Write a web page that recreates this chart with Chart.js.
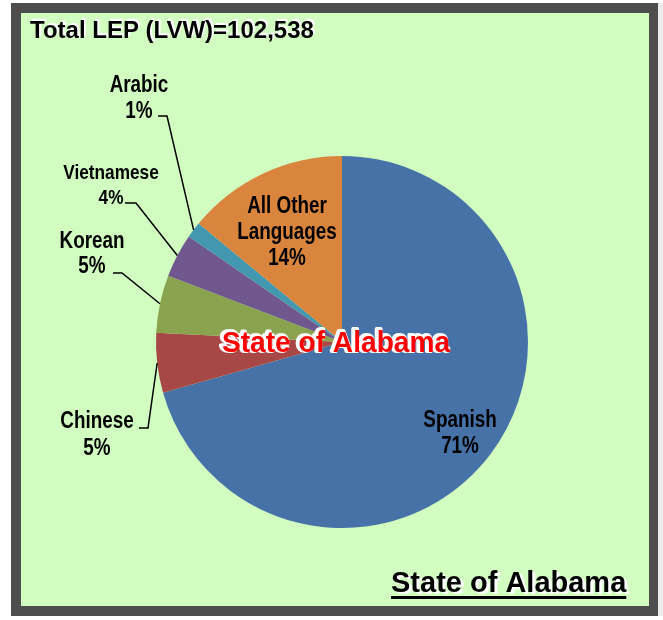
<!DOCTYPE html>
<html>
<head>
<meta charset="utf-8">
<script src="https://cdn.jsdelivr.net/npm/chart.js@4"></script>
<style>
    html, body { margin: 0; padding: 0; background: #ffffff; }
    #wrap { position: absolute; left: 0; top: 0; width: 663px; height: 620px; }
</style>
</head>
<body>
<div id="wrap"><canvas id="lepChart" width="663" height="620"></canvas></div>
<script>
    // data
    const title = 'Total LEP (LVW)=102,538';
    const stateName = 'State of Alabama';
    const languages = ['Spanish', 'Chinese', 'Korean', 'Vietnamese', 'Arabic', 'All Other Languages'];
    const shares = [70.6, 5.2, 5.0, 3.8, 1.4, 14.0];

    const sliceColors = ['#4672a8', '#a84846', '#8aa34e', '#70588f', '#4398b0', '#d9853e'];
    const FONT = "'Liberation Sans', Arial, sans-serif";
    const NARROW = 0.82; // labels in the original use a condensed face

    // where each slice label sits (first baseline), and the elbow of its leader line
    const labelLayout = [
        { x: 460, y: 427, size: 23, gap: 26 },
        { x: 97, y: 428, size: 23, gap: 27, elbow: { x1: 139, x2: 148, y: 428 } },
        { x: 92, y: 248, size: 23, gap: 25, elbow: { x1: 113, x2: 122, y: 273 } },
        { x: 111, y: 179, size: 21, gap: 25, elbow: { x1: 125, x2: 136, y: 203 } },
        { x: 139, y: 92, size: 23, gap: 26, elbow: { x1: 158, x2: 167, y: 116 } },
        { x: 287, y: 213, size: 23, gap: 26, wrap: true }
    ];

    // fillText with a horizontal squeeze around the anchor point
    function squeezedText(ctx, str, x, y, sx) {
        ctx.save();
        ctx.translate(x, y);
        ctx.scale(sx, 1);
        ctx.fillText(str, 0, 0);
        ctx.restore();
    }

    function textWithHalo(ctx, str, x, y, fill, dx, dy) {
        ctx.fillStyle = '#ffffff';
        ctx.fillText(str, x + dx, y + dy);
        ctx.fillStyle = fill;
        ctx.fillText(str, x, y);
    }

    const framePlugin = {
        id: 'frame',
        beforeDraw(chart) {
            const ctx = chart.ctx;
            ctx.save();
            ctx.fillStyle = '#ebebeb';
            ctx.fillRect(658, 3, 5, 613);
            ctx.fillStyle = '#4d4d4d';
            ctx.fillRect(11, 3, 647, 613);
            ctx.fillStyle = '#d1fdc0';
            ctx.fillRect(21, 13, 628, 593);
            ctx.restore();
        }
    };

    const labelPlugin = {
        id: 'sliceLabels',
        afterDatasetsDraw(chart) {
            const ctx = chart.ctx;
            const arcs = chart.getDatasetMeta(0).data;
            ctx.save();
            ctx.textAlign = 'center';
            ctx.textBaseline = 'alphabetic';
            arcs.forEach((arc, i) => {
                const lay = labelLayout[i];
                const name = languages[i];
                let lines = lay.wrap
                    ? [name.slice(0, name.lastIndexOf(' ')), name.slice(name.lastIndexOf(' ') + 1)]
                    : [name];
                lines.push(Math.round(shares[i]) + '%');
                ctx.font = 'bold ' + lay.size + 'px ' + FONT;
                ctx.fillStyle = '#000000';
                lines.forEach((s, k) => squeezedText(ctx, s, lay.x, lay.y + k * lay.gap, NARROW));

                if (lay.elbow) {
                    const p = arc.getProps(['x', 'y', 'startAngle', 'endAngle', 'outerRadius'], true);
                    const mid = (p.startAngle + p.endAngle) / 2;
                    const ex = p.x + Math.cos(mid) * p.outerRadius;
                    const ey = p.y + Math.sin(mid) * p.outerRadius;
                    ctx.strokeStyle = '#000000';
                    ctx.lineWidth = 1.5;
                    ctx.beginPath();
                    ctx.moveTo(lay.elbow.x1, lay.elbow.y);
                    ctx.lineTo(lay.elbow.x2, lay.elbow.y);
                    ctx.lineTo(ex, ey);
                    ctx.stroke();
                }
            });

            // red watermark over the pie
            ctx.font = 'bold 29px ' + FONT;
            ctx.lineJoin = 'round';
            ctx.strokeStyle = '#ffffff';
            ctx.lineWidth = 4;
            ctx.save();
            ctx.translate(336, 352);
            ctx.scale(0.97, 1);
            ctx.strokeText(stateName, -2, -1);
            ctx.fillStyle = '#ff0000';
            ctx.fillText(stateName, 0, 0);
            ctx.restore();
            ctx.restore();
        },
        afterDraw(chart) {
            const ctx = chart.ctx;
            ctx.save();
            ctx.textBaseline = 'alphabetic';
            ctx.textAlign = 'left';
            ctx.font = 'bold 24px ' + FONT;
            textWithHalo(ctx, title, 30, 38, '#000000', 2, -2);

            ctx.font = 'bold 29px ' + FONT;
            const w = ctx.measureText(stateName).width;
            textWithHalo(ctx, stateName, 391, 592, '#000000', 3, 2);
            ctx.fillStyle = '#000000';
            ctx.fillRect(391, 596, w, 3);
            ctx.restore();
        }
    };

    const ctx = document.getElementById('lepChart').getContext('2d');
    const lepChart = new Chart(ctx, {
        type: 'pie',
        data: {
            labels: languages,
            datasets: [{
                data: shares,
                backgroundColor: sliceColors,
                borderWidth: 0
            }]
        },
        options: {
            responsive: false,
            animation: false,
            layout: {
                padding: { left: 156, right: 135, top: 156, bottom: 92 }
            },
            plugins: {
                legend: { display: false },
                tooltip: { enabled: false }
            }
        },
        plugins: [framePlugin, labelPlugin]
    });
</script>
</body>
</html>
